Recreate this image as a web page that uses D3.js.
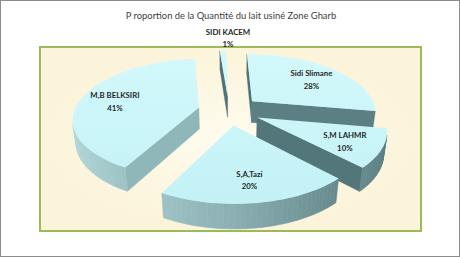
<!DOCTYPE html>
<html lang="fr">
<head>
<meta charset="UTF-8">
<title>Proportion de la Quantité du lait usiné Zone Gharb</title>
<script src="https://d3js.org/d3.v7.min.js"></script>
<style>
  body { margin: 0; background: #fff; }
  svg { display: block; font-family: Lato, "Open Sans", sans-serif; }
</style>
</head>
<body>
<svg width="460" height="257"></svg>
<script>
const categories = ["SIDI KACEM", "Sidi Slimane", "S,M LAHMR", "S,A,Tazi", "M,B BELKSIRI"];
const shares = [1, 28, 10, 20, 41];
const percentLabels = ["1%", "28%", "10%", "20%", "41%"];
const chartTitle = "P roportion de la Quantité du lait usiné Zone Gharb";

const W = 460, H = 257;
const plot = {x: 40, y: 47, w: 381, h: 184};

// flat pie seen from above and in front, simple perspective camera
const tilt = 30 * Math.PI / 180, sinT = Math.sin(tilt), cosT = Math.cos(tilt);
const camDist = 5.0, focal = 609;
const cx = 229, cy = 132;
const thick = 0.2, explode = 0.25;
const firstAngle = -4.5 * Math.PI / 180;
const cam = [0, camDist * sinT, camDist * cosT];

function depth(p) { return camDist - p[2] * cosT - p[1] * sinT; }
function project(p) {
  const d = depth(p);
  return [cx + focal * p[0] / d, cy + focal * (p[2] * sinT - p[1] * cosT) / d];
}
function facing(n, p) {
  return n[0] * (cam[0] - p[0]) + n[1] * (cam[1] - p[1]) + n[2] * (cam[2] - p[2]) > 0;
}
const line = d3.line();
const poly = pts => line(pts.map(project)) + "Z";

const svg = d3.select("svg");
const defs = svg.append("defs");

const topGrad = defs.append("linearGradient").attr("id", "topGrad")
  .attr("gradientUnits", "userSpaceOnUse").attr("x1", 0).attr("y1", 50).attr("x2", 0).attr("y2", 210);
topGrad.append("stop").attr("offset", 0).attr("stop-color", "#d3f9fc");
topGrad.append("stop").attr("offset", 1).attr("stop-color", "#c2f1f6");

const bgGrad = defs.append("radialGradient").attr("id", "bgGrad");
bgGrad.append("stop").attr("offset", 0).attr("stop-color", "#fffcee");
bgGrad.append("stop").attr("offset", 1).attr("stop-color", "#fbf4da");

defs.append("clipPath").attr("id", "plotClip").append("rect")
  .attr("x", plot.x).attr("y", plot.y).attr("width", plot.w).attr("height", plot.h);

// chart frame
svg.append("rect").attr("x", 0.5).attr("y", 0.5).attr("width", W - 1).attr("height", H - 1)
  .attr("fill", "#fff").attr("stroke", "#8c8c8c");

svg.append("text").attr("x", 231).attr("y", 19).attr("text-anchor", "middle")
  .attr("font-size", 9.4).attr("fill", "#404040").text(chartTitle);

svg.append("rect").attr("x", plot.x).attr("y", plot.y).attr("width", plot.w).attr("height", plot.h)
  .attr("fill", "url(#bgGrad)").attr("stroke", "#9bbb59").attr("stroke-width", 2);

const wallShade = d3.scaleLinear().domain([-1, 0, 1]).range(["#b3d9db", "#8aaeb1", "#567a7e"]);
const cutShade = d3.scaleLinear().domain([-1, -0.2, 1]).range(["#4f7276", "#5a7e82", "#95bcbe"]);

const slices = d3.pie().sort(null).value(d => d)
  .startAngle(firstAngle).endAngle(firstAngle + 2 * Math.PI)(shares)
  .map((p, i) => {
    const mid = (p.startAngle + p.endAngle) / 2;
    return {i, a0: p.startAngle, a1: p.endAngle, mid,
      ox: explode * Math.sin(mid), oz: -explode * Math.cos(mid)};
  });
const rim = (s, a, r, y) => [s.ox + r * Math.sin(a), y, s.oz - r * Math.cos(a)];

const pieG = svg.append("g").attr("clip-path", "url(#plotClip)");

// back to front
const order = slices.slice().sort((a, b) => depth([b.ox, 0, b.oz]) - depth([a.ox, 0, a.oz]));

order.forEach(s => {
  const g = pieG.append("g");
  const apexTop = [s.ox, thick, s.oz], apexBot = [s.ox, 0, s.oz];

  // radial cut faces
  [[s.a0, -1], [s.a1, 1]].forEach(([a, sign]) => {
    const n = [sign * Math.cos(a), 0, sign * Math.sin(a)];
    if (!facing(n, rim(s, a, 0.5, thick / 2))) return;
    g.append("path")
      .attr("d", poly([apexBot, apexTop, rim(s, a, 1, thick), rim(s, a, 1, 0)]))
      .attr("fill", cutShade(n[0])).attr("stroke", cutShade(n[0])).attr("stroke-width", 0.4);
  });

  // curved outer wall
  const steps = Math.max(2, Math.ceil((s.a1 - s.a0) / (Math.PI / 90)));
  for (let k = 0; k < steps; k++) {
    const aa = s.a0 + (s.a1 - s.a0) * k / steps, ab = s.a0 + (s.a1 - s.a0) * (k + 1) / steps;
    const am = (aa + ab) / 2;
    const n = [Math.sin(am), 0, -Math.cos(am)];
    if (!facing(n, rim(s, am, 1, thick / 2))) continue;
    const c = wallShade(n[0]);
    g.append("path")
      .attr("d", poly([rim(s, aa, 1, 0), rim(s, aa, 1, thick), rim(s, ab, 1, thick), rim(s, ab, 1, 0)]))
      .attr("fill", c).attr("stroke", c).attr("stroke-width", 0.6);
  }

  // top face
  const topPts = [apexTop];
  for (let k = 0; k <= steps; k++) topPts.push(rim(s, s.a0 + (s.a1 - s.a0) * k / steps, 1, thick));
  g.append("path").attr("d", poly(topPts)).attr("fill", "url(#topGrad)");
});

// data labels
slices.forEach(s => {
  let x, y;
  if (s.i === 0) {
    const p = project(rim(s, s.mid, 1, thick));
    x = p[0] + 5; y = p[1] - 16;
  } else {
    const p = project(rim(s, s.mid, 0.72, thick));
    x = p[0]; y = p[1] - 1;
  }
  const t = svg.append("text").attr("text-anchor", "middle").attr("font-size", 7.8)
    .attr("font-weight", "bold").attr("fill", "#262626");
  t.append("tspan").attr("x", x).attr("y", y).text(categories[s.i]);
  t.append("tspan").attr("x", x).attr("y", y + 12.5).text(percentLabels[s.i]);
});
</script>
</body>
</html>
